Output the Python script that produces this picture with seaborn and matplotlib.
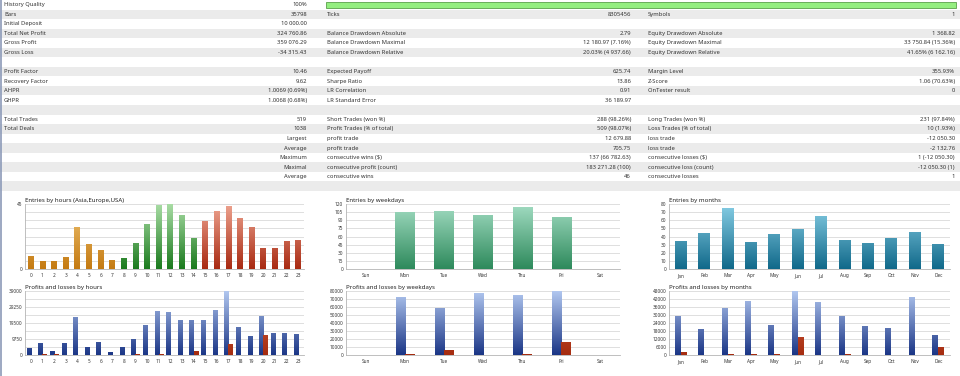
import numpy as np
import pandas as pd
import matplotlib
matplotlib.use('Agg')
import matplotlib.pyplot as plt
import seaborn as sns
from matplotlib.colors import to_hex, to_rgb
from matplotlib.patches import Rectangle

# tablo verileri (3 sütun, her satır: etiket, değer)
col1_labels = ['History Quality', 'Bars', 'Initial Deposit', 'Total Net Profit', 'Gross Profit', 'Gross Loss', '',
               'Profit Factor', 'Recovery Factor', 'AHPR', 'GHPR', '',
               'Total Trades', 'Total Deals', '', '', '', '', '', '']
col1_values = ['100%', '35798', '10 000.00', '324 760.86', '359 076.29', '-34 315.43', '',
               '10.46', '9.62', '1.0069 (0.69%)', '1.0068 (0.68%)', '',
               '519', '1038', 'Largest', 'Average', 'Maximum', 'Maximal', 'Average', '']
col2_labels = ['', 'Ticks', '', 'Balance Drawdown Absolute', 'Balance Drawdown Maximal', 'Balance Drawdown Relative', '',
               'Expected Payoff', 'Sharpe Ratio', 'LR Correlation', 'LR Standard Error', '',
               'Short Trades (won %)', 'Profit Trades (% of total)', 'profit trade', 'profit trade',
               'consecutive wins ($)', 'consecutive profit (count)', 'consecutive wins', '']
col2_values = ['', '8305456', '', '2.79', '12 180.97 (7.16%)', '20.03% (4 937.66)', '',
               '625.74', '13.86', '0.91', '36 189.97', '',
               '288 (98.26%)', '509 (98.07%)', '12 679.88', '705.75',
               '137 (66 782.63)', '183 271.28 (100)', '46', '']
col3_labels = ['', 'Symbols', '', 'Equity Drawdown Absolute', 'Equity Drawdown Maximal', 'Equity Drawdown Relative', '',
               'Margin Level', 'Z-Score', 'OnTester result', '', '',
               'Long Trades (won %)', 'Loss Trades (% of total)', 'loss trade', 'loss trade',
               'consecutive losses ($)', 'consecutive loss (count)', 'consecutive losses', '']
col3_values = ['', '1', '', '1 368.82', '33 750.84 (15.36%)', '41.65% (6 162.16)', '',
               '355.93%', '1.06 (70.63%)', '0', '', '',
               '231 (97.84%)', '10 (1.93%)', '-12 050.30', '-2 132.76',
               '1 (-12 050.30)', '-12 050.30 (1)', '1', '']

# grafik verileri
hours = [str(h) for h in range(24)]
entries_hours = [9, 5, 5, 8, 29, 17, 13, 6, 7, 18, 31, 44, 45, 37, 21, 33, 40, 43, 35, 29, 14, 14, 19, 20]
session = ['Asia'] * 8 + ['Europe'] * 7 + ['USA'] * 9
profit_hours = [4200, 7300, 2400, 6900, 22600, 4400, 7900, 1600, 4600, 9700, 18200, 26300,
                25700, 20800, 20800, 21200, 26900, 38600, 16600, 11100, 23200, 12900, 12900, 12300]
loss_hours = [0, 200, 300, 0, 0, 0, 0, 0, 0, 300, 0, 250, 0, 0, 2200, 0, 0, 6700, 0, 0, 11900, 0, 0, 0]

weekdays = ['Sun', 'Mon', 'Tue', 'Wed', 'Thu', 'Fri', 'Sat']
entries_weekdays = [0, 105, 107, 98, 114, 95, 0]
profit_weekdays = [0, 72000, 57600, 76300, 74200, 79000, 0]
loss_weekdays = [0, 800, 5400, 0, 500, 15700, 0]

months = ['Jan', 'Feb', 'Mar', 'Apr', 'May', 'Jun', 'Jul', 'Aug', 'Sep', 'Oct', 'Nov', 'Dec']
entries_months = [34, 44, 74, 33, 42, 49, 65, 35, 32, 37, 45, 30]
profit_months = [28600, 18900, 34800, 40500, 21900, 47300, 39300, 28600, 21400, 19900, 42800, 14700]
loss_months = [2000, 0, 300, 200, 200, 13400, 0, 200, 0, 0, 0, 5700]

# renkler: alt renk -> üst (açık) renk
top_color = {
    '#c47a12': '#f0c474',   # Asia
    '#1b7a1e': '#a8dca4',   # Europe
    '#a82a12': '#eea490',   # USA
    '#2e8a5c': '#a2dcc2',   # weekdays
    '#11698a': '#88cfe6',   # months
    '#1b3686': '#b2c8f0',   # profit
    '#a52c10': '#dc6a48',   # loss
}

sns.set_style('white')
plt.rcParams['font.family'] = ['Noto Sans', 'DejaVu Sans']

W, H = 960, 376
fig = plt.figure(figsize=(9.6, 3.76), dpi=100)

# üst tablo
tab = fig.add_axes([0, 0, 1, 1])
tab.set_xlim(0, W)
tab.set_ylim(H, 0)
tab.axis('off')
rh = 9.55
txt = '#333333'
fs = 4.2
for i in range(20):
    y = i * rh
    if i % 2 == 1:
        tab.add_patch(Rectangle((0, y), W, rh, color='#ebebeb', lw=0))
    yc = y + rh / 2
    tab.text(4, yc, col1_labels[i], ha='left', va='center', fontsize=fs, color=txt)
    tab.text(307, yc, col1_values[i], ha='right', va='center', fontsize=fs, color=txt)
    tab.text(327, yc, col2_labels[i], ha='left', va='center', fontsize=fs, color=txt)
    tab.text(631, yc, col2_values[i], ha='right', va='center', fontsize=fs, color=txt)
    tab.text(648, yc, col3_labels[i], ha='left', va='center', fontsize=fs, color=txt)
    tab.text(955, yc, col3_values[i], ha='right', va='center', fontsize=fs, color=txt)
# history quality çubuğu
tab.add_patch(Rectangle((326, 1.5), 630, 6.5, facecolor='#94ee80', edgecolor='#5aa04a', lw=0.6))
tab.plot([0.6, 0.6], [0, H], color='#8c9ab8', lw=1.2)


def panel(px0, py0, px1, py1):
    return fig.add_axes([px0 / W, 1 - py1 / H, (px1 - px0) / W, (py1 - py0) / H])


def shade(ax, ymax):
    # çubukları dikey gradyan ile boya (eksen yüksekliğine göre)
    for p in list(ax.patches):
        h = p.get_height()
        if h <= 0:
            continue
        base = to_hex(p.get_facecolor())
        c0 = np.array(to_rgb(base))
        c1 = np.array(to_rgb(top_color.get(base, base)))
        t = np.linspace(0, h / ymax, 64)[:, None, None]
        img = c0 + (c1 - c0) * t
        x, w = p.get_x(), p.get_width()
        ax.imshow(img, extent=(x, x + w, 0, h), origin='lower', aspect='auto',
                  interpolation='bilinear', zorder=2.5)


def style(ax, title, n, ymax, step, label_every=1):
    ax.set_xlim(-0.5, n - 0.5)
    ax.set_ylim(0, ymax)
    ticks = np.arange(0, ymax + step / 2, step)
    ax.set_yticks(ticks)
    if label_every > len(ticks) // 2:
        labels = [f'{int(v)}' if k in (0, len(ticks) - 1) else '' for k, v in enumerate(ticks)]
    else:
        labels = [f'{int(v)}' if k % label_every == 0 else '' for k, v in enumerate(ticks)]
    ax.set_yticklabels(labels)
    ax.grid(axis='y', color='#d9d9d9', lw=0.6)
    ax.set_axisbelow(True)
    for s in ['top', 'right']:
        ax.spines[s].set_visible(False)
    for s in ['left', 'bottom']:
        ax.spines[s].set_color('#b4b4b4')
        ax.spines[s].set_linewidth(0.6)
    ax.set_xticks(np.arange(n) - 0.5, minor=True)
    ax.tick_params(axis='x', which='minor', length=2, width=0.5, color='#b4b4b4')
    ax.tick_params(axis='x', which='major', length=0, labelsize=3.4, pad=3, labelcolor='#333333')
    ax.tick_params(axis='y', length=0, labelsize=3.4, pad=2, labelcolor='#333333')
    ax.set_xlabel('')
    ax.set_ylabel('')
    ax.set_title(title, loc='left', fontsize=4.4, pad=1.5, color='#222222')


# Entries by hours
ax1 = panel(25, 204, 304, 269)
df1 = pd.DataFrame({'hour': hours, 'n': entries_hours, 'session': session})
sns.barplot(data=df1, x='hour', y='n', hue='session', dodge=False, width=0.5, saturation=1, linewidth=0,
            palette={'Asia': '#c47a12', 'Europe': '#1b7a1e', 'USA': '#a82a12'}, legend=False, ax=ax1)
shade(ax1, 45)
style(ax1, 'Entries by hours (Asia,Europe,USA)', 24, 45, 45 / 8, label_every=8)

# Entries by weekdays
ax2 = panel(346, 204, 620, 269)
df2 = pd.DataFrame({'day': weekdays, 'n': entries_weekdays})
sns.barplot(data=df2, x='day', y='n', color='#2e8a5c', width=0.49, saturation=1, linewidth=0, ax=ax2)
shade(ax2, 120)
style(ax2, 'Entries by weekdays', 7, 120, 15)

# Entries by months
ax3 = panel(669, 204, 950, 269)
df3 = pd.DataFrame({'month': months, 'n': entries_months})
sns.barplot(data=df3, x='month', y='n', color='#11698a', width=0.51, saturation=1, linewidth=0, ax=ax3)
shade(ax3, 80)
style(ax3, 'Entries by months', 12, 80, 10)


def pl_frame(cats, prof, loss, key):
    return pd.DataFrame({key: cats * 2, 'v': prof + loss,
                         'kind': ['profit'] * len(cats) + ['loss'] * len(cats)})


pl_pal = {'profit': '#1b3686', 'loss': '#a52c10'}

# Profits and losses by hours
ax4 = panel(25, 291, 304, 355)
sns.barplot(data=pl_frame(hours, profit_hours, loss_hours, 'hour'), x='hour', y='v', hue='kind',
            palette=pl_pal, width=0.72, saturation=1, linewidth=0, legend=False, ax=ax4)
shade(ax4, 39000)
style(ax4, 'Profits and losses by hours', 24, 39000, 4875, label_every=2)

# Profits and losses by weekdays
ax5 = panel(346, 291, 620, 355)
sns.barplot(data=pl_frame(weekdays, profit_weekdays, loss_weekdays, 'day'), x='day', y='v', hue='kind',
            palette=pl_pal, width=0.47, saturation=1, linewidth=0, legend=False, ax=ax5)
shade(ax5, 80000)
style(ax5, 'Profits and losses by weekdays', 7, 80000, 10000)

# Profits and losses by months
ax6 = panel(669, 291, 950, 355)
sns.barplot(data=pl_frame(months, profit_months, loss_months, 'month'), x='month', y='v', hue='kind',
            palette=pl_pal, width=0.51, saturation=1, linewidth=0, legend=False, ax=ax6)
shade(ax6, 48000)
style(ax6, 'Profits and losses by months', 12, 48000, 6000)

fig.savefig('out.png', dpi=100)
